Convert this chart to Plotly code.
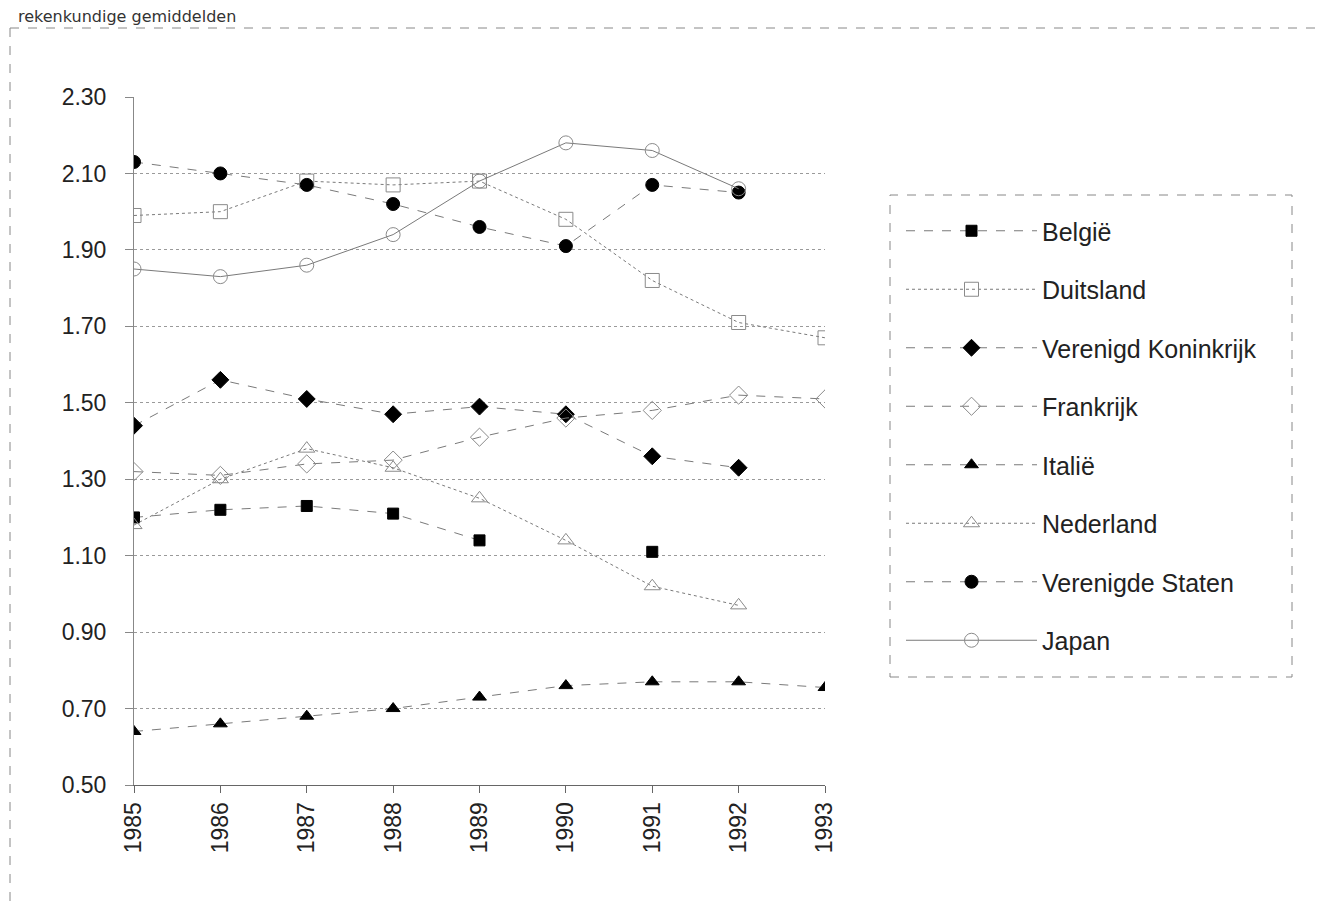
import plotly.graph_objects as go

years = [1985, 1986, 1987, 1988, 1989, 1990, 1991, 1992, 1993]
belgie = [1.20, 1.22, 1.23, 1.21, 1.14, None, 1.11, None, None]
duitsland = [1.99, 2.00, 2.08, 2.07, 2.08, 1.98, 1.82, 1.71, 1.67]
vk = [1.44, 1.56, 1.51, 1.47, 1.49, 1.47, 1.36, 1.33, None]
frankrijk = [1.32, 1.31, 1.34, 1.35, 1.41, 1.46, 1.48, 1.52, 1.51]
italie = [0.64, 0.66, 0.68, 0.70, 0.73, 0.76, 0.77, 0.77, 0.755]
nederland = [1.18, 1.30, 1.38, 1.33, 1.25, 1.14, 1.02, 0.97, None]
vs = [2.13, 2.10, 2.07, 2.02, 1.96, 1.91, 2.07, 2.05, None]
japan = [1.85, 1.83, 1.86, 1.94, 2.08, 2.18, 2.16, 2.06, None]
y_ticks = [0.50, 0.70, 0.90, 1.10, 1.30, 1.50, 1.70, 1.90, 2.10, 2.30]

# figure is drawn at an 8px page offset; sizes below are figure pixels
W, H = 1316, 895
L, R, T, B = 126, 817, 89, 777

series = [
    ("België", belgie, "square", "black", "black", 11, "dash"),
    ("Duitsland", duitsland, "square-open", "white", "#8a8a8a", 14, "dot"),
    ("Verenigd Koninkrijk", vk, "diamond", "black", "black", 13, "dash"),
    ("Frankrijk", frankrijk, "diamond-open", "white", "#8a8a8a", 14, "dash"),
    ("Italië", italie, "triangle-up", "black", "black", 12, "dash"),
    ("Nederland", nederland, "triangle-up-open", "white", "#8a8a8a", 14, "dot"),
    ("Verenigde Staten", vs, "circle", "black", "black", 13, "dash"),
    ("Japan", japan, "circle-open", "white", "#8a8a8a", 14, "solid"),
]

fig = go.Figure()
for i, (name, vals, sym, fill, edge, size, dash) in enumerate(series):
    fig.add_trace(go.Scatter(
        x=years, y=vals, name=name, mode="lines+markers",
        connectgaps=False, legendgroup=f"g{i}",
        line=dict(color="#7a7a7a", width=1, dash=dash),
        marker=dict(symbol=sym, size=size, color=edge if "open" in sym else fill,
                    line=dict(color=edge, width=1)),
    ))

def px_x(p):
    return (p - L) / (R - L)

def px_y(p):
    return (B - p) / (B - T)

FRAME_TOP = 20

shapes = [
    dict(type="line", xref="paper", yref="paper", x0=px_x(2), x1=px_x(W),
         y0=px_y(FRAME_TOP), y1=px_y(FRAME_TOP),
         line=dict(color="#888", width=1, dash="dash")),
    dict(type="line", xref="paper", yref="paper", x0=px_x(2), x1=px_x(2),
         y0=px_y(FRAME_TOP), y1=px_y(H), line=dict(color="#888", width=1, dash="dash")),
    dict(type="rect", xref="paper", yref="paper", x0=px_x(882), x1=px_x(1284),
         y0=px_y(669), y1=px_y(187), line=dict(color="#888", width=1, dash="dash")),
]

fig.update_layout(
    width=W, height=H,
    margin=dict(l=L, r=W - R, t=T, b=H - B, autoexpand=False),
    paper_bgcolor="white", plot_bgcolor="white",
    font=dict(family="Liberation Sans, Arial, sans-serif", color="#222"),
    showlegend=True,
    legend=dict(
        xref="container", yref="container",
        x=893 / W, y=1 - 200 / H, xanchor="left", yanchor="top",
        font=dict(size=25, color="#222"),
        bgcolor="rgba(0,0,0,0)", borderwidth=0,
        itemwidth=131, tracegroupgap=23, maxheight=800,
    ),
    shapes=shapes,
    annotations=[dict(
        text="rekenkundige gemiddelden", xref="paper", yref="paper",
        x=px_x(9), y=px_y(FRAME_TOP - 1), xanchor="left", yanchor="bottom",
        showarrow=False, borderpad=0,
        font=dict(size=16, color="#333", family="DejaVu Sans, sans-serif"),
    )],
    xaxis=dict(
        range=[1985, 1993], tickmode="array", tickvals=years,
        ticktext=[str(y) for y in years], tickangle=-90,
        tickfont=dict(size=23, color="#222"),
        showgrid=False, zeroline=False,
        showline=True, linecolor="#666", linewidth=1,
        ticks="outside", ticklen=7, tickcolor="#666",
        ticklabelstandoff=0,
    ),
    xaxis2=dict(
        overlaying="x", anchor="y", side="bottom", matches="x",
        range=[1985, 1993], tickmode="array", tickvals=years,
        showticklabels=False, showgrid=False, zeroline=False, showline=False,
        ticks="inside", ticklen=7, tickcolor="#666",
    ),
    yaxis=dict(
        range=[0.5, 2.3], tickmode="array", tickvals=y_ticks,
        ticktext=[f"{v:.2f}" for v in y_ticks],
        tickfont=dict(size=23, color="#222"),
        showgrid=True, gridcolor="#9a9a9a", griddash="dot", gridwidth=1,
        zeroline=False,
        showline=True, linecolor="#888", linewidth=1,
        ticks="outside", ticklen=8, tickcolor="#888",
        ticklabelstandoff=14,
    ),
    yaxis2=dict(
        overlaying="y", anchor="x", side="left", matches="y",
        range=[0.5, 2.3], tickmode="array", tickvals=y_ticks,
        showticklabels=False, showgrid=False, zeroline=False, showline=False,
        ticks="inside", ticklen=8, tickcolor="#888",
    ),
)

fig.write_html("out.html")
